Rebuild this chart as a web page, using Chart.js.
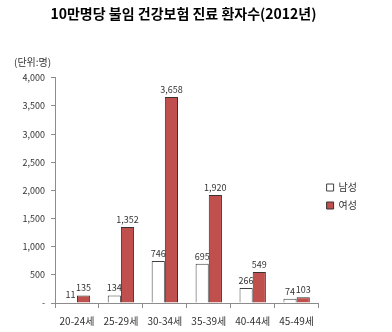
<!DOCTYPE html>
<html>
<head>
<meta charset="utf-8">
<script src="https://cdn.jsdelivr.net/npm/chart.js@4/dist/chart.umd.min.js"></script>
<style>
  html, body { margin: 0; padding: 0; background: #fff; }
  #wrap { width: 392px; height: 332px; }
</style>
</head>
<body>
<div id="wrap"><canvas id="chart" width="392" height="332"></canvas></div>
<script>
const ages = ["20-24세", "25-29세", "30-34세", "35-39세", "40-44세", "45-49세"];
const male = [11, 134, 746, 695, 266, 74];
const female = [135, 1352, 3658, 1920, 549, 103];
const yTicks = [0, 500, 1000, 1500, 2000, 2500, 3000, 3500, 4000];

const FONT = "'Noto Sans CJK KR', 'Noto Sans', sans-serif";
const ctx = document.getElementById("chart").getContext("2d");

// 막대 위 값 표시
const valueLabels = {
    id: "valueLabels",
    afterDatasetsDraw(chart) {
        const c = chart.ctx;
        c.save();
        c.font = "9px " + FONT;
        c.fillStyle = "#333";
        c.textAlign = "center";
        c.textBaseline = "bottom";
        chart.data.datasets.forEach((ds, i) => {
            chart.getDatasetMeta(i).data.forEach((bar, j) => {
                c.fillText(ds.data[j].toLocaleString("en-US"), bar.x, bar.y - 3);
            });
        });
        c.restore();
    }
};

// 단위 표시
const unitLabel = {
    id: "unitLabel",
    afterDraw(chart) {
        const c = chart.ctx;
        c.save();
        c.font = "10px " + FONT;
        c.fillStyle = "#333";
        c.textAlign = "left";
        c.textBaseline = "middle";
        c.fillText("(단위:명)", 14, 62);
        c.restore();
    }
};

new Chart(ctx, {
    type: "bar",
    data: {
        labels: ages,
        datasets: [
            {
                label: "남성",
                data: male,
                backgroundColor: "#ffffff",
                borderColor: "#404040",
                borderWidth: 1
            },
            {
                label: "여성",
                data: female,
                backgroundColor: "#C0504D",
                borderColor: "#3a3030",
                borderWidth: 1
            }
        ]
    },
    plugins: [valueLabels, unitLabel],
    options: {
        responsive: false,
        animation: false,
        layout: { padding: { top: 0, right: 25, bottom: 0, left: 0 } },
        datasets: {
            bar: { categoryPercentage: 0.6, barPercentage: 1.0 }
        },
        plugins: {
            title: {
                display: true,
                text: "10만명당 불임 건강보험 진료 환자수(2012년)",
                color: "#000",
                font: { family: FONT, size: 14, weight: "bold" },
                padding: { top: 5, bottom: 56 }
            },
            legend: {
                position: "right",
                fullSize: false,
                // 빈 제목으로 범례를 조금 아래로 내림
                title: { display: true, text: "", font: { size: 6 }, padding: { top: 0, bottom: 5 } },
                labels: {
                    boxWidth: 7,
                    boxHeight: 7,
                    padding: 8,
                    color: "#333",
                    font: { family: FONT, size: 10 }
                }
            },
            tooltip: { enabled: false }
        },
        scales: {
            x: {
                grid: {
                    offset: true,
                    drawOnChartArea: false,
                    color: "#8c8c8c",
                    tickLength: 5
                },
                border: { color: "#8c8c8c" },
                ticks: {
                    color: "#333",
                    font: { family: FONT, size: 10 },
                    padding: 7,
                    maxRotation: 0
                },
                afterFit(scale) { scale.height = 29; }
            },
            y: {
                min: 0,
                max: 4000,
                afterBuildTicks(scale) { scale.ticks = yTicks.map(v => ({ value: v })); },
                grid: {
                    drawOnChartArea: false,
                    color: "#8c8c8c",
                    tickLength: 4
                },
                border: { color: "#8c8c8c" },
                ticks: {
                    color: "#333",
                    font: { family: FONT, size: 9 },
                    padding: 6,
                    callback: v => v === 0 ? "-" : v.toLocaleString("en-US")
                },
                afterFit(scale) { scale.width = 55; }
            }
        }
    }
});
</script>
</body>
</html>
